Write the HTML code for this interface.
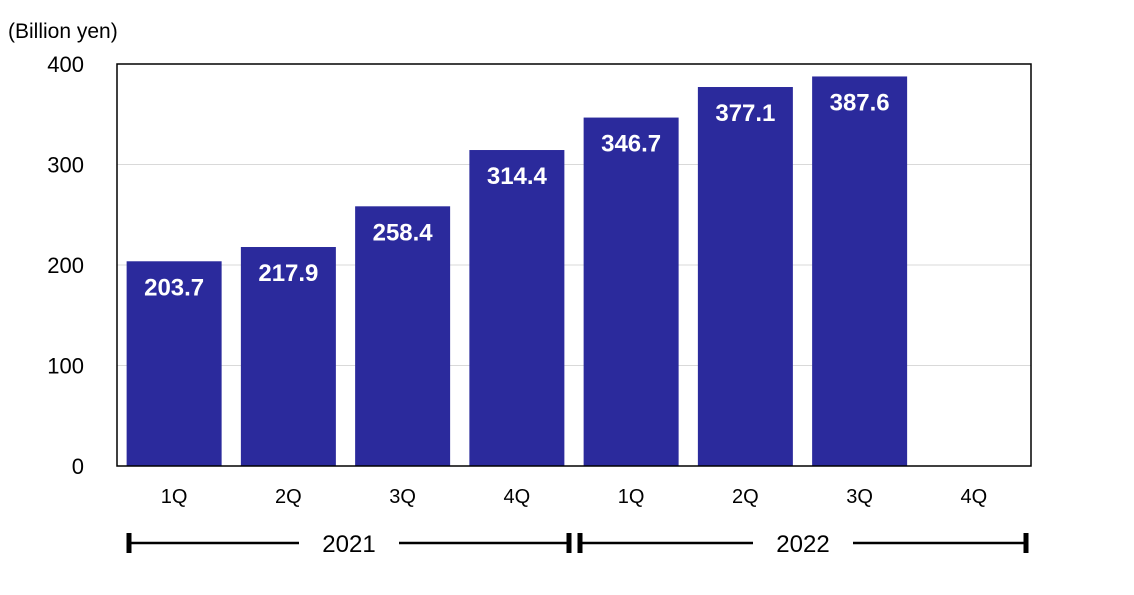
<!DOCTYPE html>
<html><head><meta charset="utf-8"><style>
body{margin:0;background:#fff;width:1134px;height:590px;overflow:hidden}
svg text{font-family:"Liberation Sans",Arial,sans-serif}
</style></head><body>
<svg id="chart" width="1134" height="590" viewBox="0 0 1134 590" xmlns="http://www.w3.org/2000/svg">
<text x="8" y="38" font-size="21">(Billion yen)</text>
<g id="grid"></g>
<g id="bars"></g>
<rect x="117" y="64" width="914" height="402" fill="none" stroke="#000" stroke-width="1.5"/>
<g id="yticks"></g>
<g id="xticks"></g>
<g id="years"></g>
</svg>
<script>
const categories=["1Q","2Q","3Q","4Q","1Q","2Q","3Q","4Q"];
const values=[203.7,217.9,258.4,314.4,346.7,377.1,387.6,null];
const labels=["203.7","217.9","258.4","314.4","346.7","377.1","387.6",""];
const yTicks=[0,100,200,300,400];
const years=["2021","2022"];
const NS="http://www.w3.org/2000/svg";
const L=117,R=1031,T=64,B=466,yMax=400;
const y=v=>B-(v/yMax)*(B-T);
const slot=(R-L)/categories.length;
const xc=i=>L+slot*(i+0.5);
function mk(tag,attrs,parent){const e=document.createElementNS(NS,tag);for(const k in attrs)e.setAttribute(k,attrs[k]);parent.appendChild(e);return e;}
const g=document.getElementById('grid'),b=document.getElementById('bars'),yt=document.getElementById('yticks'),xt=document.getElementById('xticks'),yr=document.getElementById('years');
yTicks.forEach(t=>{
  if(t>0&&t<yMax){const l=mk('line',{x1:L,x2:R,y1:y(t),y2:y(t),stroke:'#d9d9d9','stroke-width':1},g);
  
  }
  const tx=mk('text',{x:84,y:y(t)+8,'font-size':22,'text-anchor':'end'},yt);tx.textContent=t;
  
  
});
const bw=95;
categories.forEach((c,i)=>{
  const tx=mk('text',{x:xc(i),y:503,'font-size':20,'text-anchor':'middle'},xt);tx.textContent=c;
  
  
  const v=values[i];if(v==null)return;
  const r=mk('rect',{x:xc(i)-bw/2,y:y(v),width:bw,height:B-y(v),fill:'#2b2a9c'},b);
  
  
  const lt=mk('text',{x:xc(i),y:y(v)+34,'font-size':24,'font-weight':'bold',fill:'#fff','text-anchor':'middle'},b);lt.textContent=labels[i];
  
  
});
years.forEach((yv,k)=>{
  const x1=k==0?129:580,x2=k==0?569:1026,cx=(x1+x2)/2,ty=543;
  mk('line',{x1:x1,x2:cx-50,y1:ty,y2:ty,stroke:'#000','stroke-width':2.5},yr);
  mk('line',{x1:cx+50,x2:x2,y1:ty,y2:ty,stroke:'#000','stroke-width':2.5},yr);
  mk('rect',{x:x1-2.5,y:ty-10,width:5,height:20,fill:'#000'},yr);
  mk('rect',{x:x2-2.5,y:ty-10,width:5,height:20,fill:'#000'},yr);
  const t=mk('text',{x:cx,y:ty+9,'font-size':24,'text-anchor':'middle'},yr);t.textContent=yv;
  
  
});
</script>
</body></html>
